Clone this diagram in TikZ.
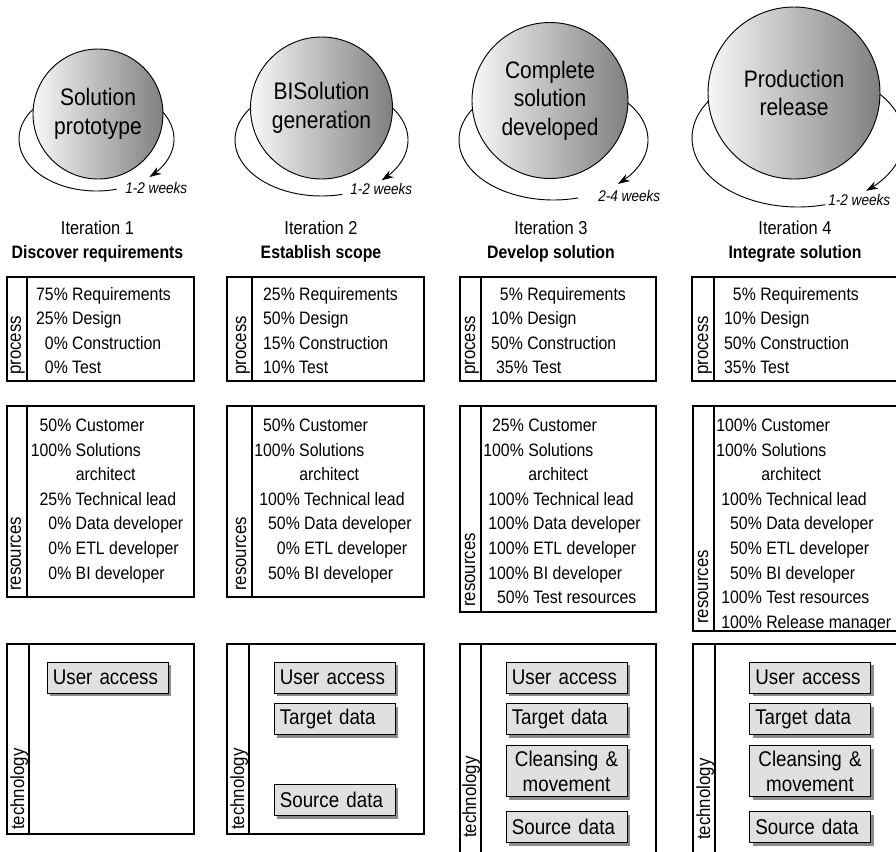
\documentclass[tikz,border=0pt]{standalone}
\usepackage{fontspec}
\setmainfont{Liberation Sans}[FakeStretch=0.88]
\usetikzlibrary{positioning, arrows.meta, shadows}

\newcommand{\pc}[1]{\llap{#1\%\ }}
\newcommand{\pcx}[1]{\hspace*{3.75pt}\llap{#1\%\ }}

\tikzset{
  panel/.style={draw, line width=0.8pt},
  side/.style={rotate=90, anchor=base west, inner sep=0pt, font=\fontsize{14.3}{16}\selectfont},
  list/.style={anchor=north west, inner sep=0pt, align=left, font=\fontsize{13.5}{18.4}\selectfont},
  bubble/.style={circle, draw, line width=0.7pt, left color=black!3, right color=black!50, align=center, inner sep=0pt, font=\fontsize{17.9}{21.5}\selectfont},
  lap/.style={line width=0.7pt, -{Stealth[length=9pt, width=6pt]}},
  lapline/.style={line width=0.7pt},
  weeks/.style={anchor=west, inner sep=0pt, font=\fontsize{11.6}{13}\selectfont\itshape},
  itern/.style={inner sep=0pt, font=\fontsize{14}{16}\selectfont},
  goal/.style={inner sep=0pt, font=\fontsize{13.5}{16}\selectfont\bfseries},
  block/.style={draw, fill=black!12, line width=0.7pt, minimum height=23.25pt, text width=82pt,
    inner xsep=4.4pt, inner ysep=0pt, align=left, font=\fontsize{16}{19}\selectfont,
    drop shadow={shadow xshift=2.5pt, shadow yshift=-2.5pt, fill=black!45, opacity=1}}
}

\begin{document}
\begin{tikzpicture}[x=0.75pt, y=-0.75pt]
  \useasboundingbox (0,0) rectangle (896,851);
  \clip (0,0) rectangle (896,851);

  % loops, drawn first so the bubbles hide them
  \draw[lap] plot[domain=-60:47, samples=50] ({96.5+77.5*cos(\x)},{139+52*sin(\x)});
  \draw[lapline] plot[domain=75:240, samples=50] ({96.5+77.5*cos(\x)},{139+52*sin(\x)});
  \draw[lap] plot[domain=-60:46, samples=50] ({321.5+86.5*cos(\x)},{140+56*sin(\x)});
  \draw[lapline] plot[domain=76:240, samples=50] ({321.5+86.5*cos(\x)},{140+56*sin(\x)});
  \draw[lap] plot[domain=-60:47, samples=50] ({553.5+94.5*cos(\x)},{140+60*sin(\x)});
  \draw[lapline] plot[domain=75:240, samples=50] ({553.5+94.5*cos(\x)},{140+60*sin(\x)});
  \draw[lap] plot[domain=-60:50, samples=50] ({798+106*cos(\x)},{138+69*sin(\x)});
  \draw[lapline] plot[domain=75:240, samples=50] ({798+106*cos(\x)},{138+69*sin(\x)});

  \node[bubble, minimum size=97.5pt] (proto) at (98,114) {Solution\\prototype};
  \node[bubble, minimum size=106.5pt] (gen) at (321.5,108) {BISolution\\generation};
  \node[bubble, minimum size=117pt] (dev) at (550,100.5) {Complete\\solution\\developed};
  \node[bubble, minimum size=129pt] (rel) at (794,93) {Production\\release};

  \node[weeks] (w1) at (125,188) {1-2 weeks};
  \node[weeks] (w2) at (350,189) {1-2 weeks};
  \node[weeks] (w3) at (598,196) {2-4 weeks};
  \node[weeks] (w4) at (828,200) {1-2 weeks};

  \node[itern] (it1) at (97.5,228) {Iteration 1};
  \node[goal, anchor=base] (g1) at ([yshift=-18pt]it1.base) {Discover requirements};
  \node[itern] (it2) at (321,228) {Iteration 2};
  \node[goal, anchor=base] (g2) at ([yshift=-18pt]it2.base) {Establish scope};
  \node[itern] (it3) at (551,228) {Iteration 3};
  \node[goal, anchor=base] (g3) at ([yshift=-18pt]it3.base) {Develop solution};
  \node[itern] (it4) at (795,228) {Iteration 4};
  \node[goal, anchor=base] (g4) at ([yshift=-18pt]it4.base) {Integrate solution};

  % process
  \draw[panel] (7,277) rectangle (194,381);   \draw[panel] (27,277) -- (27,381);
  \draw[panel] (227,277) rectangle (424,381); \draw[panel] (252,277) -- (252,381);
  \draw[panel] (460,277) rectangle (656,381); \draw[panel] (481,277) -- (481,381);
  \draw[panel] (692,277) rectangle (905,381); \draw[panel] (714,277) -- (714,381);
  \node[side] (pr1) at (21,375) {process};
  \node[side] (pr2) at (246,375) {process};
  \node[side] (pr3) at (475,375) {process};
  \node[side] (pr4) at (708,375) {process};
  \node[list] (pl1) at (72,286.7) {\pc{75}Requirements\\ \pc{25}Design\\ \pc{0}Construction\\ \pc{0}Test};
  \node[list] (pl2) at (299,286.7) {\pc{25}Requirements\\ \pc{50}Design\\ \pc{15}Construction\\ \pc{10}Test};
  \node[list] (pl3) at (527,286.7) {\pc{5}Requirements\\ \pc{10}Design\\ \pc{50}Construction\\ \pcx{35}Test};
  \node[list] (pl4) at (760,286.7) {\pc{5}Requirements\\ \pc{10}Design\\ \pc{50}Construction\\ \pc{35}Test};

  % resources
  \draw[panel] (7,406) rectangle (194,597);   \draw[panel] (27,406) -- (27,597);
  \draw[panel] (227,406) rectangle (424,597); \draw[panel] (252,406) -- (252,597);
  \draw[panel] (460,406) rectangle (656,612); \draw[panel] (481,406) -- (481,612);
  \draw[panel] (693,406) rectangle (905,631); \draw[panel] (714,406) -- (714,631);
  \node[side] (rs1) at (21,591) {resources};
  \node[side] (rs2) at (246,591) {resources};
  \node[side] (rs3) at (475,607) {resources};
  \node[side] (rs4) at (708,624) {resources};
  \node[list] (rl1) at (75.5,419) {\pc{50}Customer\\ \pc{100}Solutions\\ architect\\ \pc{25}Technical lead\\
    \pc{0}Data developer\\ \pc{0}ETL developer\\ \pc{0}BI developer};
  \node[list] (rl2) at (299,419) {\pc{50}Customer\\ \pc{100}Solutions\\ architect\\ \pcx{100}Technical lead\\
    \pcx{50}Data developer\\ \pcx{0}ETL developer\\ \pcx{50}BI developer};
  \node[list] (rl3) at (528,419) {\pc{25}Customer\\ \pc{100}Solutions\\ architect\\ \pcx{100}Technical lead\\
    \pcx{100}Data developer\\ \pcx{100}ETL developer\\ \pcx{100}BI developer\\ \pcx{50}Test resources};
  \node[list] (rl4) at (761,419) {\pc{100}Customer\\ \pc{100}Solutions\\ architect\\ \pcx{100}Technical lead\\
    \pcx{50}Data developer\\ \pcx{50}ETL developer\\ \pcx{50}BI developer\\ \pcx{100}Test resources\\
    \pcx{100}Release manager};

  % technology
  \draw[panel] (7,644) rectangle (194,834);   \draw[panel] (29,644) -- (29,834);
  \draw[panel] (227,644) rectangle (424,834); \draw[panel] (249,644) -- (249,834);
  \draw[panel] (460,644) rectangle (656,870); \draw[panel] (481,644) -- (481,870);
  \draw[panel] (693,644) rectangle (905,870); \draw[panel] (715,644) -- (715,870);
  \node[side] (tc1) at (24,830) {technology};
  \node[side] (tc2) at (244,830) {technology};
  \node[side] (tc3) at (476,838) {technology};
  \node[side] (tc4) at (710,840) {technology};

  \node[block] (ua1) at (107.5,677.5) {User access};

  \node[block] (ua2) at (334.5,677.5) {User access};
  \node[block, below=7.5pt of ua2] (td2) {Target data};
  \node[block] (sd2) at (334.5,800) {Source data};

  \node[block] (ua3) at (566.5,677.5) {User access};
  \node[block, below=7.5pt of ua3] (td3) {Target data};
  \node[block, below=7.5pt of td3, align=center, minimum height=38.25pt] (cm3) {Cleansing \&\\movement};
  \node[block, below=10.5pt of cm3] (sd3) {Source data};

  \node[block] (ua4) at (810,677.5) {User access};
  \node[block, below=7.5pt of ua4] (td4) {Target data};
  \node[block, below=7.5pt of td4, align=center, minimum height=38.25pt] (cm4) {Cleansing \&\\movement};
  \node[block, below=10.5pt of cm4] (sd4) {Source data};
\end{tikzpicture}
\end{document}
